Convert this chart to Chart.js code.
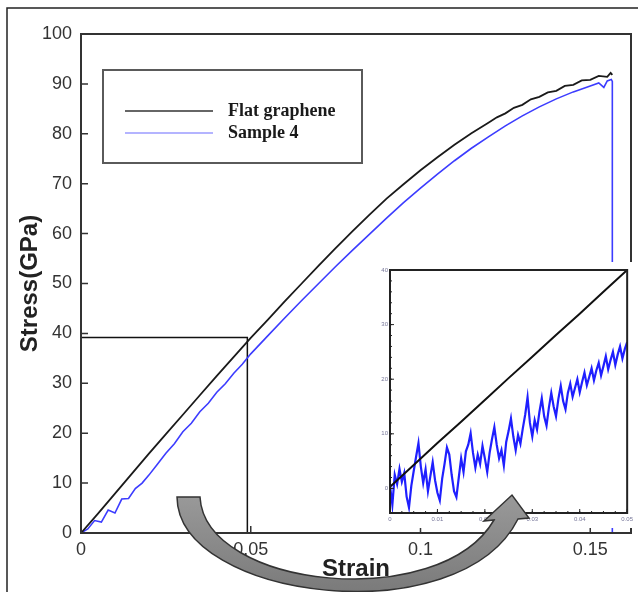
<!DOCTYPE html>
<html lang="en">
<head>
<meta charset="UTF-8">
<title>Stress vs strain: flat graphene and sample 4</title>
<script src="https://cdn.jsdelivr.net/npm/chart.js"></script>
<style>
  html, body { margin: 0; padding: 0; background: #fff; }
  #wrap { position: relative; width: 638px; height: 592px; overflow: hidden; }
  #mainChart { position: absolute; left: 0; top: 0; }
  #insetChart { position: absolute; left: 376px; top: 262px; background: #fff; }
  #arrowLayer { position: absolute; left: 0; top: 0; pointer-events: none; }
</style>
</head>
<body>
<div id="wrap">
  <canvas id="mainChart" width="638" height="592"></canvas>
  <canvas id="insetChart" width="260" height="266"></canvas>
  <canvas id="arrowLayer" width="638" height="592"></canvas>
</div>
<script>
// ---- main plot data ----
const blackStrain = [0, 0.005, 0.01, 0.015, 0.02, 0.025, 0.03, 0.035, 0.04, 0.045,
  0.05, 0.055, 0.06, 0.065, 0.07, 0.075, 0.08, 0.085, 0.09, 0.095,
  0.1, 0.105, 0.11, 0.115, 0.12, 0.1225, 0.125, 0.1275, 0.13, 0.1325,
  0.135, 0.1375, 0.14, 0.1425, 0.145, 0.1475, 0.15, 0.1525, 0.155, 0.156, 0.1565];
const blackStress = [0, 3.9, 7.9, 11.9, 15.9, 19.8, 23.7, 27.6, 31.5, 35.3,
  39.1, 42.7, 46.4, 50.0, 53.6, 57.1, 60.5, 63.8, 67.0, 69.9,
  72.7, 75.3, 77.8, 80.1, 82.2, 83.3, 84.1, 85.2, 85.8, 86.9,
  87.4, 88.3, 88.6, 89.6, 89.8, 90.7, 90.8, 91.6, 91.4, 92.2, 91.8];

const blueStrain = [0, 0.002, 0.004, 0.006, 0.008, 0.01, 0.012, 0.014, 0.016, 0.018,
  0.02, 0.0225, 0.025, 0.0275, 0.03, 0.0325, 0.035, 0.0375, 0.04, 0.0425,
  0.045, 0.0475, 0.05, 0.055, 0.06, 0.065, 0.07, 0.075, 0.08, 0.085,
  0.09, 0.095, 0.1, 0.105, 0.11, 0.115, 0.12, 0.125, 0.13, 0.135,
  0.14, 0.145, 0.15, 0.1525, 0.154, 0.155, 0.1562, 0.1565, 0.1565];
const blueStress = [0, 0.8, 2.5, 2.2, 4.6, 4.0, 6.8, 6.9, 8.9, 10.0,
  11.6, 13.8, 16.0, 17.9, 20.3, 22.0, 24.3, 26.0, 28.2, 29.9,
  32.0, 33.8, 35.9, 39.5, 43.1, 46.6, 50.0, 53.4, 56.7, 59.9,
  63.1, 66.2, 69.1, 71.9, 74.6, 77.1, 79.4, 81.6, 83.6, 85.4,
  87.0, 88.4, 89.6, 90.2, 89.3, 90.6, 90.9, 90.5, 0];

// region that the inset blows up (strain, stress corners)
const zoomStrain = [0, 0.049, 0.049];
const zoomStress = [39.2, 39.2, 0];

const xTickValues = [0, 0.05, 0.1, 0.15];
const xTickLabels = ['0', '0.05', '0.1', '0.15'];
const yTickValues = [0, 10, 20, 30, 40, 50, 60, 70, 80, 90, 100];

// ---- inset data ----
const insetBlackStrain = [0, 0.001, 0.005, 0.01, 0.015, 0.02, 0.025, 0.03, 0.035, 0.04, 0.045, 0.05];
const insetBlackStress = [0.3, 1.1, 4.3, 8.3, 12.2, 16.2, 20.2, 24.1, 28.1, 32.0, 36.0, 40.0];

const insetBlueStrain = [0, 0.0005, 0.001, 0.0015, 0.002, 0.0025, 0.003, 0.0035, 0.004, 0.0045,
  0.005, 0.0055, 0.006, 0.0065, 0.007, 0.0075, 0.008, 0.0085, 0.009, 0.0095,
  0.01, 0.0105, 0.011, 0.0115, 0.012, 0.0125, 0.013, 0.0135, 0.014, 0.0145,
  0.015, 0.0155, 0.016, 0.0165, 0.017, 0.0175, 0.018, 0.0185, 0.019, 0.0195,
  0.02, 0.0205, 0.021, 0.0215, 0.022, 0.0225, 0.023, 0.0235, 0.024, 0.0245,
  0.025, 0.0255, 0.026, 0.0265, 0.027, 0.0275, 0.028, 0.0285, 0.029, 0.0295,
  0.03, 0.0305, 0.031, 0.0315, 0.032, 0.0325, 0.033, 0.0335, 0.034, 0.0345,
  0.035, 0.0355, 0.036, 0.0365, 0.037, 0.0375, 0.038, 0.0385, 0.039, 0.0395,
  0.04, 0.0405, 0.041, 0.0415, 0.042, 0.0425, 0.043, 0.0435, 0.044, 0.0445,
  0.045, 0.0455, 0.046, 0.0465, 0.047, 0.0475, 0.048, 0.0485, 0.049, 0.0495, 0.05];
const insetBlueStress = [0.5, -3.0, 2.5, 0.8, 3.6, 1.2, 2.8, -1.5, -3.5, 0.5,
  3.2, 5.8, 8.3, 4.0, 1.0, 3.5, -0.5, 2.2, 4.8, 1.5,
  -0.8, -2.2, 1.8, 4.5, 7.5, 6.2, 2.5, -0.5, -1.6, 2.0,
  5.5, 3.0, 6.8, 8.0, 10.1, 6.5, 3.8, 6.2, 4.5, 7.8,
  5.5, 3.0, 6.5, 9.0, 11.2, 8.0, 5.5, 7.0, 4.2, 8.5,
  10.5, 12.8, 9.5, 7.0, 9.8, 8.2, 11.0, 13.5, 16.7, 12.0,
  9.5, 12.5, 10.8, 14.0, 16.5, 13.2, 11.5, 14.8, 17.5, 15.0,
  13.2, 16.4, 18.8, 16.0, 14.5, 17.5, 19.2, 16.8, 18.4, 20.0,
  17.6, 19.5, 21.2, 18.9, 20.4, 22.0, 19.8, 21.6, 23.0, 20.7,
  22.4, 24.2, 21.8, 23.5, 25.0, 22.6, 24.5, 26.0, 23.8, 25.5, 26.8];

const insetXTicks = [0, 0.01, 0.02, 0.03, 0.04, 0.05];
const insetXLabels = ['0', '0.01', '0.02', '0.03', '0.04', '0.05'];
const insetYTicks = [0, 10, 20, 30, 40];

const pairs = (xs, ys) => xs.map((x, i) => ({x: x, y: ys[i]}));

// box around the plot area, with inward ticks
const frameAndTicks = {
  id: 'frameAndTicks',
  beforeDraw(chart, args, opts) {
    const ctx = chart.ctx;
    ctx.save();
    ctx.fillStyle = '#fff';
    ctx.fillRect(0, 0, chart.width, chart.height);
    if (opts.pageBorder) {
      ctx.strokeStyle = '#222';
      ctx.lineWidth = 1.5;
      ctx.beginPath();
      ctx.moveTo(7, chart.height);
      ctx.lineTo(7, 8);
      ctx.lineTo(chart.width, 8);
      ctx.stroke();
    }
    ctx.restore();
  },
  afterDatasetsDraw(chart, args, opts) {
    const {ctx, chartArea: a, scales} = chart;
    ctx.save();
    ctx.strokeStyle = opts.color;
    ctx.lineWidth = opts.width;
    ctx.strokeRect(a.left, a.top, a.right - a.left, a.bottom - a.top);
    ctx.lineWidth = opts.tickWidth;
    ctx.beginPath();
    scales.x.ticks.forEach(t => {
      const px = scales.x.getPixelForValue(t.value);
      ctx.moveTo(px, a.bottom);
      ctx.lineTo(px, a.bottom - opts.tick);
    });
    scales.y.ticks.forEach(t => {
      const py = scales.y.getPixelForValue(t.value);
      ctx.moveTo(a.left, py);
      ctx.lineTo(a.left + opts.tick, py);
    });
    if (opts.minorX) {
      for (let v = scales.x.min; v <= scales.x.max + 1e-9; v += opts.minorX) {
        const px = scales.x.getPixelForValue(v);
        ctx.moveTo(px, a.bottom);
        ctx.lineTo(px, a.bottom - opts.tick / 2);
      }
    }
    if (opts.minorY) {
      for (let v = 0; v <= scales.y.max + 1e-9; v += opts.minorY) {
        const py = scales.y.getPixelForValue(v);
        ctx.moveTo(a.left, py);
        ctx.lineTo(a.left + opts.tick / 2, py);
      }
    }
    ctx.stroke();
    ctx.restore();
  }
};

// legend drawn as a framed box inside the plot
const boxLegend = {
  id: 'boxLegend',
  afterDatasetsDraw(chart, args, opts) {
    const {ctx, chartArea: a} = chart;
    const x0 = a.left + opts.left, y0 = a.top + opts.top;
    ctx.save();
    ctx.strokeStyle = '#5a5a5a';
    ctx.lineWidth = 2;
    ctx.strokeRect(x0, y0, opts.width, opts.height);
    chart.data.datasets.filter(d => !d.noLegend).forEach((d, i) => {
      const y = y0 + opts.firstRow + i * opts.rowGap;
      ctx.strokeStyle = d.legendColor;
      ctx.lineWidth = 2;
      ctx.beginPath();
      ctx.moveTo(x0 + 22, y);
      ctx.lineTo(x0 + 110, y);
      ctx.stroke();
      ctx.fillStyle = '#1a1a1a';
      ctx.font = 'bold 18px "Liberation Serif"';
      ctx.textBaseline = 'middle';
      ctx.fillText(d.label, x0 + 125, y);
    });
    ctx.restore();
  }
};

const tickFont = {family: '"Liberation Sans", Arial, sans-serif', size: 18};
const titleFont = {family: '"Liberation Sans", Arial, sans-serif', size: 24, weight: 'bold'};

const mainChart = new Chart(document.getElementById('mainChart'), {
  type: 'line',
  data: {
    datasets: [
      {label: 'Flat graphene', data: pairs(blackStrain, blackStress), borderColor: '#1a1a1a',
        legendColor: '#666', borderWidth: 1.8, pointRadius: 0},
      {label: 'Sample 4', data: pairs(blueStrain, blueStress), borderColor: '#3c3cff',
        legendColor: '#b4b4ff', borderWidth: 1.6, pointRadius: 0},
      {label: 'zoom', data: pairs(zoomStrain, zoomStress), borderColor: '#111',
        borderWidth: 1.5, pointRadius: 0, noLegend: true}
    ]
  },
  options: {
    responsive: false,
    animation: false,
    layout: {padding: {top: 34, right: 7, left: 0, bottom: 0}},
    plugins: {
      legend: {display: false},
      tooltip: {enabled: false},
      frameAndTicks: {color: '#333', width: 2, tick: 7, tickWidth: 1.5, pageBorder: true},
      boxLegend: {left: 22, top: 36, width: 259, height: 93, firstRow: 41, rowGap: 22}
    },
    scales: {
      x: {
        type: 'linear', min: 0, max: 0.162,
        afterBuildTicks: s => { s.ticks = xTickValues.map(v => ({value: v})); },
        afterFit: s => { s.height = 59; },
        grid: {display: false, drawTicks: false},
        border: {display: false},
        ticks: {padding: 6, font: tickFont, color: '#333', maxRotation: 0,
          callback: (v, i) => xTickLabels[i]},
        title: {display: true, text: 'Strain', font: titleFont, color: '#222',
          padding: {top: 0, bottom: 8}}
      },
      y: {
        type: 'linear', min: 0, max: 100,
        afterBuildTicks: s => { s.ticks = yTickValues.map(v => ({value: v})); },
        afterFit: s => { s.width = 81; },
        grid: {display: false, drawTicks: false},
        border: {display: false},
        ticks: {padding: 9, font: tickFont, color: '#333'},
        title: {display: true, text: 'Stress(GPa)', font: titleFont, color: '#222',
          padding: {top: 16, bottom: 0}}
      }
    }
  },
  plugins: [frameAndTicks, boxLegend]
});

const smallFont = {family: '"Liberation Sans", Arial, sans-serif', size: 6};

const insetChart = new Chart(document.getElementById('insetChart'), {
  type: 'line',
  data: {
    datasets: [
      {label: 'Flat graphene', data: pairs(insetBlackStrain, insetBlackStress), borderColor: '#111',
        borderWidth: 2, pointRadius: 0},
      {label: 'Sample 4', data: pairs(insetBlueStrain, insetBlueStress), borderColor: '#1f1fff',
        borderWidth: 2.2, pointRadius: 0}
    ]
  },
  options: {
    responsive: false,
    animation: false,
    layout: {padding: {top: 8, right: 6, left: 0, bottom: 0}},
    plugins: {
      legend: {display: false},
      tooltip: {enabled: false},
      frameAndTicks: {color: '#222', width: 2, tick: 4, tickWidth: 1, minorX: 0.0025, minorY: 2}
    },
    scales: {
      x: {
        type: 'linear', min: 0, max: 0.05,
        afterBuildTicks: s => { s.ticks = insetXTicks.map(v => ({value: v})); },
        afterFit: s => { s.height = 15; },
        grid: {display: false, drawTicks: false},
        border: {display: false},
        ticks: {padding: 3, font: smallFont, color: '#77779a', maxRotation: 0,
          callback: (v, i) => insetXLabels[i]}
      },
      y: {
        type: 'linear', min: -4.5, max: 40,
        afterBuildTicks: s => { s.ticks = insetYTicks.map(v => ({value: v})); },
        afterFit: s => { s.width = 14; },
        grid: {display: false, drawTicks: false},
        border: {display: false},
        ticks: {padding: 2, font: smallFont, color: '#77779a'}
      }
    }
  },
  plugins: [frameAndTicks]
});

// grey curved arrow from the zoom box to the inset, drawn over both charts.
// Offsets are pixels from the bottom-left corner of the main plot area.
function drawArrow(chart) {
  const ctx = document.getElementById('arrowLayer').getContext('2d');
  const a = chart.chartArea;
  const P = (dx, dy) => [a.left + dx, a.bottom + dy];
  const outer = [P(96, -36), P(97, 67), P(379, 102), P(437, -14)];
  const inner = [P(413, -13), P(359, 80), P(124, 56), P(119, -36)];
  const head = [P(448, -15), P(431, -38), P(403, -12)];

  ctx.save();
  ctx.beginPath();
  ctx.moveTo(outer[0][0], outer[0][1]);
  ctx.bezierCurveTo(outer[1][0], outer[1][1], outer[2][0], outer[2][1], outer[3][0], outer[3][1]);
  head.forEach(p => ctx.lineTo(p[0], p[1]));
  ctx.lineTo(inner[0][0], inner[0][1]);
  ctx.bezierCurveTo(inner[1][0], inner[1][1], inner[2][0], inner[2][1], inner[3][0], inner[3][1]);
  ctx.closePath();
  const g = ctx.createLinearGradient(0, a.bottom - 40, 0, a.bottom + 60);
  g.addColorStop(0, '#9a9a9a');
  g.addColorStop(1, '#7a7a7a');
  ctx.fillStyle = g;
  ctx.fill();
  ctx.strokeStyle = '#333';
  ctx.lineWidth = 1.5;
  ctx.lineJoin = 'miter';
  ctx.stroke();
  ctx.restore();
}

drawArrow(mainChart);
</script>
</body>
</html>
